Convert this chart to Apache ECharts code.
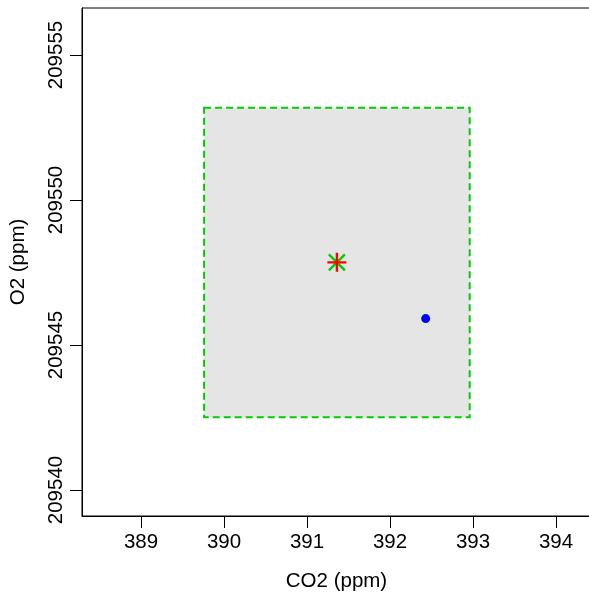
<!DOCTYPE html>
<html>
<head>
<meta charset="utf-8">
<script src="https://cdn.jsdelivr.net/npm/echarts@6/dist/echarts.min.js"></script>
<style>html,body{margin:0;padding:0;background:#fff;}#c{width:589px;height:596px;}</style>
</head>
<body>
<div id="c"></div>
<script>
// Data
const xTicks = [389, 390, 391, 392, 393, 394];
const yTicks = [209540, 209545, 209550, 209555];
const boxRange = { x: [389.76, 392.96], y: [209542.51, 209553.18] };
const meanPoint = [391.36, 209547.85];   // red plus + green cross
const bluePoint = [392.43, 209545.91];
const xLimits = [388.289, 394.53];
const yLimits = [209539.103, 209556.621];

const FONT = 'Liberation Sans, Arial, sans-serif';
const FS = 20.5;
const chart = echarts.init(document.getElementById('c'), null, { renderer: 'canvas' });

chart.setOption({
  animation: false,
  backgroundColor: '#ffffff',
  grid: { left: 82, top: 8, width: 518, height: 508, outerBoundsMode: 'none', containLabel: false, show: true, borderColor: '#000', borderWidth: 1, backgroundColor: 'transparent' },
  xAxis: {
    type: 'value', min: xLimits[0], max: xLimits[1],
    name: 'CO2 (ppm)', nameLocation: 'middle', nameGap: 55,
    nameTextStyle: { fontFamily: FONT, fontSize: FS, color: '#000', padding: [0, 9, 0, 0] },
    axisLine: { show: true, lineStyle: { color: '#000', width: 1 } },
    axisTick: { show: true, inside: false, length: 12, customValues: xTicks, lineStyle: { color: '#000' } },
    axisLabel: { customValues: xTicks, margin: 16, fontFamily: FONT, fontSize: FS, color: '#000', formatter: v => String(v) },
    splitLine: { show: false }
  },
  yAxis: {
    type: 'value', min: yLimits[0], max: yLimits[1],
    name: 'O2 (ppm)', nameLocation: 'middle', nameGap: 53, nameRotate: 90,
    nameTextStyle: { fontFamily: FONT, fontSize: FS, color: '#000' },
    axisLine: { show: true, lineStyle: { color: '#000', width: 1 } },
    axisTick: { show: true, inside: false, length: 12, customValues: yTicks, lineStyle: { color: '#000' } },
    axisLabel: { customValues: yTicks, margin: 15, rotate: 90, fontFamily: FONT, fontSize: FS, color: '#000', formatter: v => String(v) },
    splitLine: { show: false }
  },
  series: [
    {
      type: 'custom',
      coordinateSystem: 'cartesian2d',
      data: [[boxRange.x[0], boxRange.y[0], boxRange.x[1], boxRange.y[1]]],
      renderItem: function (params, api) {
        const p1 = api.coord([api.value(0), api.value(3)]);
        const p2 = api.coord([api.value(2), api.value(1)]);
        return {
          type: 'rect',
          shape: { x: p1[0], y: p1[1], width: p2[0] - p1[0], height: p2[1] - p1[1] },
          style: { fill: '#E5E5E5', stroke: '#00CD00', lineWidth: 2, lineDash: [7, 4] }
        };
      },
      z: 1
    },
    {
      type: 'scatter',
      data: [meanPoint],
      symbol: 'path://M-1,-1L1,1M-1,1L1,-1',
      symbolSize: 16,
      itemStyle: { color: 'rgba(0,0,0,0)', borderColor: '#00CD00', borderWidth: 2.4, opacity: 1 },
      z: 3
    },
    {
      type: 'scatter',
      data: [meanPoint],
      symbol: 'path://M0,-1L0,1M-1,0L1,0',
      symbolSize: 19,
      itemStyle: { color: 'rgba(0,0,0,0)', borderColor: '#FF0000', borderWidth: 2.4, opacity: 1 },
      z: 4
    },
    {
      type: 'scatter',
      data: [bluePoint],
      symbol: 'circle',
      symbolSize: 9,
      itemStyle: { color: '#0000FF', opacity: 1 },
      z: 5
    }
  ]
});
</script>
</body>
</html>
